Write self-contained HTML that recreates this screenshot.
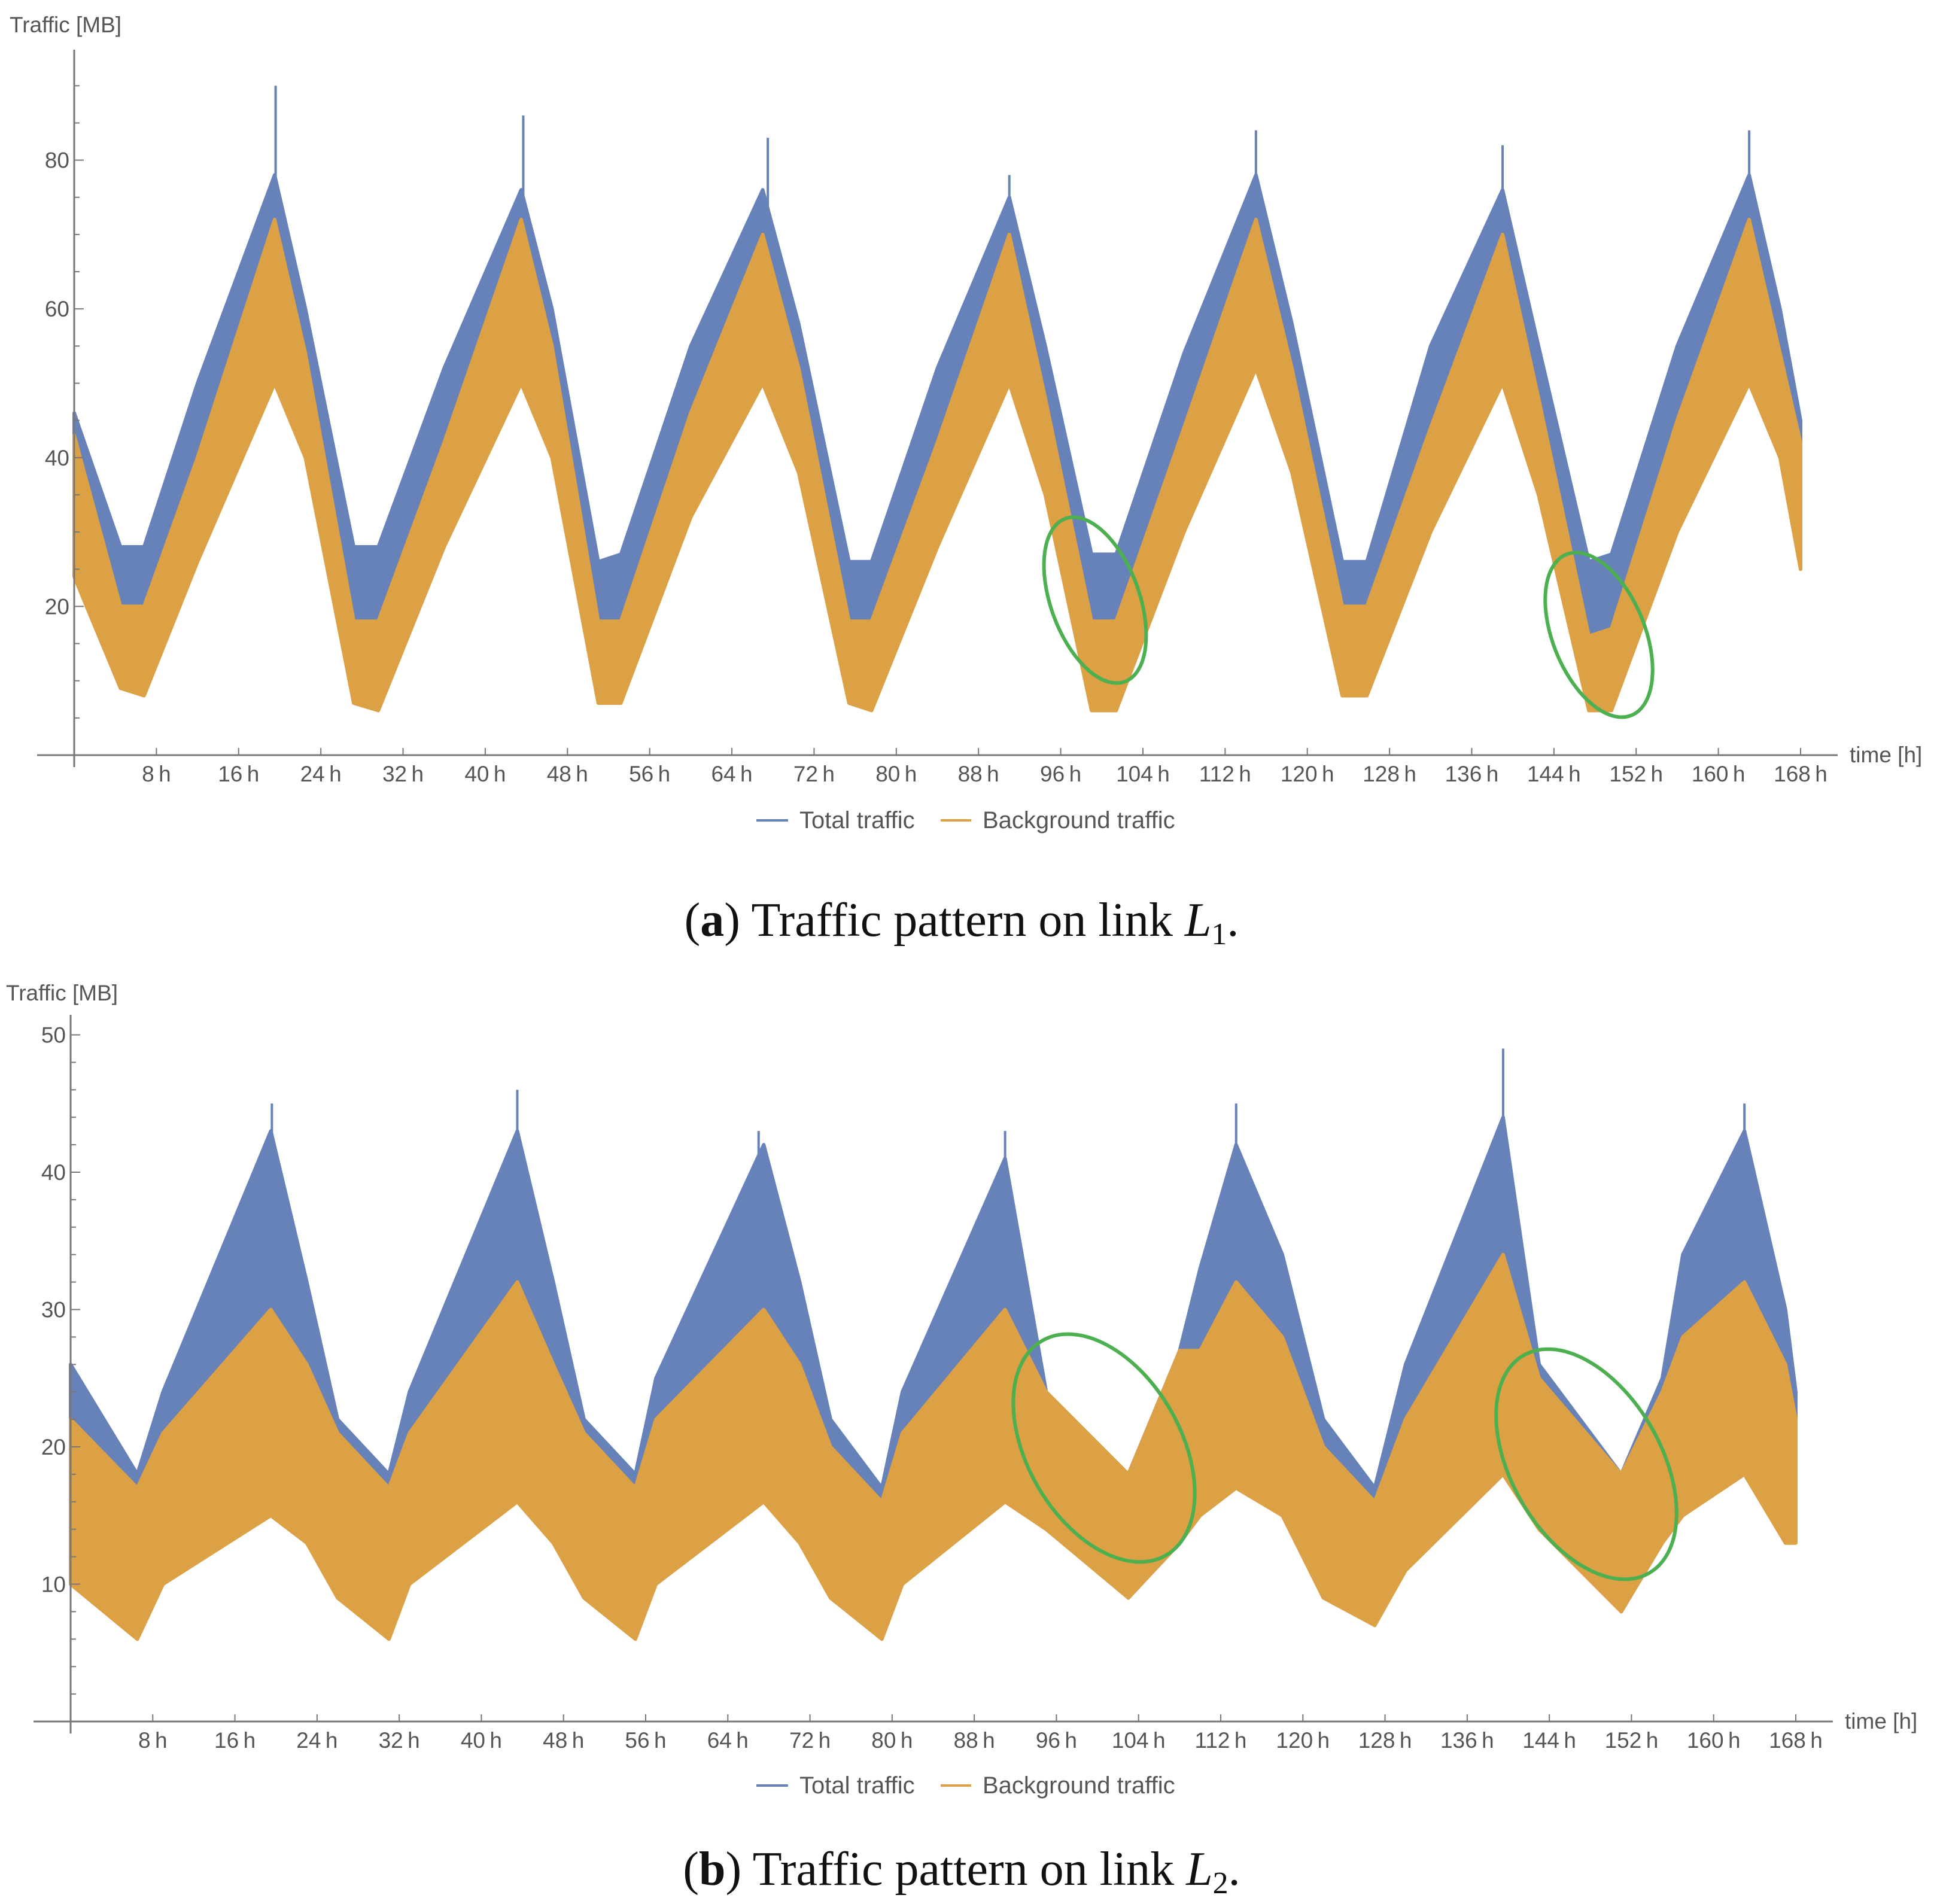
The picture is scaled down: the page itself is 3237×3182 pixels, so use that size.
<!DOCTYPE html>
<html><head><meta charset="utf-8"><style>
html,body{margin:0;padding:0;background:#fff;}
svg{display:block;}
text{font-family:"Liberation Sans",sans-serif;fill:#555;}
.cap{font-family:"Liberation Serif",serif;fill:#111;}
</style></head><body>
<svg id="chart" xmlns="http://www.w3.org/2000/svg" width="3237" height="3182" viewBox="0 0 3237 3182">
<g id="pa"></g>
<g id="pb"></g>
<text class="cap" x="1607" y="1564" font-size="80" text-anchor="middle">(<tspan font-weight="bold">a</tspan>) Traffic pattern on link <tspan font-style="italic">L</tspan><tspan font-size="52" dy="14">1</tspan><tspan dy="-14">.</tspan></text>
<text class="cap" x="1607" y="3150" font-size="80" text-anchor="middle">(<tspan font-weight="bold">b</tspan>) Traffic pattern on link <tspan font-style="italic">L</tspan><tspan font-size="52" dy="14">2</tspan><tspan dy="-14">.</tspan></text>
</svg>
<script>
// ---- Panel A data (keypoints, hours) ----
const hoursA=[0,4.5,6.8,12,19.5,22.5,27.2,29.6,36,43.5,46.5,51,53.2,60,67,70.5,75.4,77.6,84,91,94.5,99,101.4,108,115,118.5,123.4,125.8,132,139,142.5,147.4,149.6,156,163,166,168];
const totalLowA=[30,17,16,36,58,48,15,15,38,58,48,15,15,42,58,45,15,15,38,58,42,16,15,40,58,45,14,14,40,58,42,14,14,40,58,45,32];
const totalHighA=[46,28,28,50,78,60,28,28,52,76,60,26,27,55,76,58,26,26,52,75,55,27,27,54,78,58,26,26,55,76,55,26,27,55,78,60,45];
const bgLowA=[24,9,8,26,50,40,7,6,28,50,40,7,7,32,50,38,7,6,28,50,35,6,6,30,52,38,8,8,30,50,35,6,6,30,50,40,25];
const bgHighA=[43,20,20,40,72,54,18,18,42,72,55,18,18,46,70,52,18,18,42,70,48,18,18,44,72,52,20,20,44,70,48,16,17,45,72,54,42];
const spikeHoursA=[19.6,43.7,67.5,91,115,139,163];
const spikeValsA=[90,86,83,78,84,82,84];
const yTicksA=[20,40,60,80];
// ---- Panel B data ----
const hoursB=[0,6.5,9,19.5,23,26,31,33,43.5,47,50,55,57,67.5,71,74,79,81,91,95,103,108,110,113.5,118,122,127,130,139.5,143,151,155,157,163,167,168];
const totalLowB=[14,8,12,25,20,10,8,12,25,20,10,8,13,25,20,10,7,12,25,15,9,13,20,25,20,10,7,13,25,16,8,13,20,28,15,15];
const totalHighB=[26,18,24,43,32,22,18,24,43,32,22,18,25,42,32,22,17,24,41,24,18,27,33,42,34,22,17,26,44,26,18,25,34,43,30,24];
const bgLowB=[10,6,10,15,13,9,6,10,16,13,9,6,10,16,13,9,6,10,16,14,9,13,15,17,15,9,7,11,18,14,8,13,15,18,13,13];
const bgHighB=[22,17,21,30,26,21,17,21,32,26,21,17,22,30,26,20,16,21,30,24,18,27,27,32,28,20,16,22,34,25,18,24,28,32,26,22];
const spikeHoursB=[19.6,43.5,67,91,113.5,139.5,163];
const spikeValsB=[45,46,43,43,45,49,45];
const yTicksB=[10,20,30,40,50];
const xTicks=[8,16,24,32,40,48,56,64,72,80,88,96,104,112,120,128,136,144,152,160,168];

const NS="http://www.w3.org/2000/svg";
function mk(parent,tag,attrs){const e=document.createElementNS(NS,tag);for(const k in attrs)e.setAttribute(k,attrs[k]);parent.appendChild(e);return e;}
const BLUE="#6682b8",ORANGE="#dca145";

function panel(g,cfg,hours,tl,th,bl,bh,sh,sv,yt){
  const X=h=>cfg.x0+(h/168)*(cfg.x168-cfg.x0);
  const Y=v=>cfg.y0-v*cfg.ppu;
  function band(lo,hi,col,name){
    let pts=hours.map((h,i)=>X(h).toFixed(1)+","+Y(hi[i]).toFixed(1));
    for(let i=hours.length-1;i>=0;i--)pts.push(X(hours[i]).toFixed(1)+","+Y(lo[i]).toFixed(1));
    const p=mk(g,"polygon",{points:pts.join(" "),fill:col,"stroke":col,"stroke-width":6,"stroke-linejoin":"round"});
    
    
  }
  band(tl,th,BLUE,"total-traffic-series");
  sh.forEach((h,i)=>{
    const idx=hours.findIndex(t=>t>=h);
    const l=mk(g,"line",{x1:X(h),x2:X(h),y1:Y(sv[i]),y2:Y(th[Math.max(idx,0)]-4),stroke:BLUE,"stroke-width":4});
    
    
  });
  band(bl,bh,ORANGE,"background-traffic-series");
  const ya=mk(g,"line",{x1:cfg.x0,x2:cfg.x0,y1:cfg.yTop,y2:cfg.y0+20,stroke:"#777","stroke-width":3});
  
  
  const xa=mk(g,"line",{x1:cfg.xStart,x2:cfg.xEnd,y1:cfg.y0,y2:cfg.y0,stroke:"#777","stroke-width":3});
  
  
  for(let v=cfg.minor;v<=cfg.yMax;v+=cfg.minor){
    const major=yt.includes(v);
    const t=mk(g,"line",{x1:cfg.x0,x2:cfg.x0+(major?16:9),y1:Y(v),y2:Y(v),stroke:"#777","stroke-width":2});
    
    
  }
  yt.forEach(v=>{
    const t=mk(g,"text",{x:cfg.x0-8,y:Y(v)+13,"font-size":37,"text-anchor":"end"});
    t.textContent=v;
    
    
  });
  xTicks.forEach(h=>{
    const t=mk(g,"line",{x1:X(h),x2:X(h),y1:cfg.y0,y2:cfg.y0-12,stroke:"#777","stroke-width":2});
    
    
    const l=mk(g,"text",{x:X(h),y:cfg.y0+44,"font-size":37,"text-anchor":"middle"});
    l.textContent=h+"\u2009h";
    
    
  });
  const xt=mk(g,"text",{x:cfg.xEnd+20,y:cfg.y0+12,"font-size":37});
  xt.textContent="time [h]";
  
  
  const yl=mk(g,"text",{x:cfg.ylx,y:cfg.yly,"font-size":37});
  yl.textContent="Traffic [MB]";
  
  
  const lg=mk(g,"g",{});
  
  
  const ly=cfg.legY;
  const e1=mk(lg,"line",{x1:1264,x2:1317,y1:ly,y2:ly,stroke:BLUE,"stroke-width":4});
  
  
  const t1=mk(lg,"text",{x:1336,y:ly+13,"font-size":40,fill:"#333"});
  t1.textContent="Total traffic";
  
  
  const e2=mk(lg,"line",{x1:1572,x2:1623,y1:ly,y2:ly,stroke:ORANGE,"stroke-width":4});
  
  
  const t2=mk(lg,"text",{x:1642,y:ly+13,"font-size":40,fill:"#333"});
  t2.textContent="Background traffic";
  
  
  cfg.ell.forEach(e=>{
    const el=mk(g,"ellipse",{cx:e[0],cy:e[1],rx:e[2],ry:e[3],transform:`rotate(${e[4]} ${e[0]} ${e[1]})`,fill:"none",stroke:"#4caf50","stroke-width":6});
    
    
  });
}
panel(document.getElementById("pa"),{x0:124,x168:3009,y0:1262,ppu:12.43,yTop:83,xStart:62,xEnd:3071,yMax:90,minor:5,ylx:16,yly:54,legY:1371,
  ell:[[1830,1003,74,145,-20],[2672,1061,77,145,-22]]},hoursA,totalLowA,totalHighA,bgLowA,bgHighA,spikeHoursA,spikeValsA,yTicksA);
panel(document.getElementById("pb"),{x0:118,x168:3001,y0:2877,ppu:22.95,yTop:1696,xStart:56,xEnd:3063,yMax:50,minor:2,ylx:10,yly:1672,legY:2984,
  ell:[[1845,2420,128,207,-30],[2651,2447,125,210,-30]]},hoursB,totalLowB,totalHighB,bgLowB,bgHighB,spikeHoursB,spikeValsB,yTicksB);
</script>
</body></html>
